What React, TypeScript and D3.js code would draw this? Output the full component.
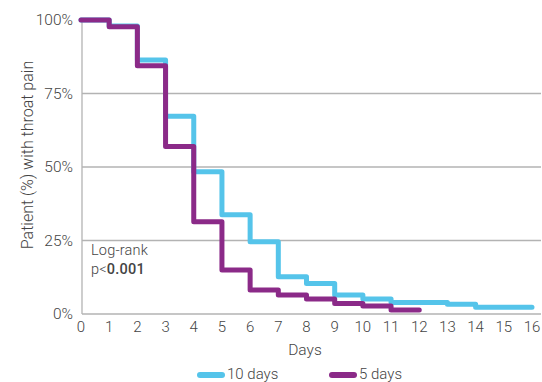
import React from "react";
import * as d3 from "d3";

const days = [0, 1, 2, 3, 4, 5, 6, 7, 8, 9, 10, 11, 12, 13, 14, 15, 16];
const yTicks = [0, 25, 50, 75, 100];
// step values: value held from day x[i] to day x[i+1]
const tenDaysX = [0, 1, 2, 3, 4, 5, 6, 7, 8, 9, 10, 11, 13, 14, 16];
const tenDaysY = [100, 98, 86.4, 67.3, 48.4, 33.8, 24.6, 12.7, 10.4, 6.5, 5.1, 3.9, 3.3, 2.3, 2.3];
const fiveDaysX = [0, 1, 2, 3, 4, 5, 6, 7, 8, 9, 10, 11, 12];
const fiveDaysY = [100, 97.7, 84.4, 57, 31.4, 15, 8.2, 6.5, 5.1, 3.6, 2.7, 1.4, 1.4];
const seriesNames = ["10 days", "5 days"];
const colors = ["#55c4ea", "#8b2a88"];

export default function App() {
  const W = 542, H = 382;
  const x = d3.scaleLinear().domain([0, 16]).range([81, 532]);
  const y = d3.scaleLinear().domain([0, 100]).range([314, 20]);
  const line = d3.line<[number, number]>().x(d => x(d[0])).y(d => y(d[1])).curve(d3.curveStepAfter);
  const ten: [number, number][] = tenDaysX.map((d, i) => [d, tenDaysY[i]]);
  const five: [number, number][] = fiveDaysX.map((d, i) => [d, fiveDaysY[i]]);
  const font = "Roboto, 'Liberation Sans', sans-serif";
  const txt = "#444";
  const axisX0 = 82;
  return (
    <svg width={W} height={H} style={{ position: "absolute", left: 0, top: 0 }} fontFamily={font}>
      <rect width={W} height={H} fill="#fff" />
      {yTicks.filter(t => t > 0 && t < 100).map(t => (
        <line key={t} x1={axisX0} x2={541} y1={y(t)} y2={y(t)} stroke="#b3b3b3" strokeWidth={1.3} />
      ))}
      <line x1={axisX0} x2={axisX0} y1={y(100)} y2={y(0)} stroke="#b3b3b3" strokeWidth={1.3} />
      <line x1={axisX0} x2={541} y1={y(0)} y2={y(0)} stroke="#b3b3b3" strokeWidth={1.3} />
      {yTicks.map(t => (
        <text key={t} x={73} y={y(t)} dy="0.35em" textAnchor="end" fontSize={15.5} fontWeight={300} fill={txt}>{t}%</text>
      ))}
      {days.map(d => (
        <text key={d} x={x(d)} y={332} textAnchor="middle" fontSize={15} fontWeight={300} fill={txt}>{d}</text>
      ))}
      <text x={305} y={355} textAnchor="middle" fontSize={15.5} fontWeight={300} fill={txt}>Days</text>
      <text transform={`translate(33,155) rotate(-90)`} textAnchor="middle" fontSize={16} fontWeight={300} fill={txt}>Patient (%) with throat pain</text>
      <text x={91} y={255} fontSize={14.5} fontWeight={300} letterSpacing={0.2} fill={txt}>Log-rank</text>
      <text x={91} y={274} fontSize={14.5} fontWeight={300} letterSpacing={0.2} fill={txt}>p&lt;<tspan fontWeight={500}>0.001</tspan></text>
      <path d={line(ten) || ""} fill="none" stroke={colors[0]} strokeWidth={5} strokeLinecap="round" strokeLinejoin="round" />
      <path d={line(five) || ""} fill="none" stroke={colors[1]} strokeWidth={5} strokeLinecap="round" strokeLinejoin="round" />
      {seriesNames.map((n, i) => {
        const lx = i === 0 ? 200 : 332;
        return (
          <g key={n}>
            <line x1={lx} x2={lx + 22} y1={375} y2={375} stroke={colors[i]} strokeWidth={6} strokeLinecap="round" />
            <text x={lx + 27} y={378.5} fontSize={15} fontWeight={300} fill={txt}>{n}</text>
          </g>
        );
      })}
    </svg>
  );
}
